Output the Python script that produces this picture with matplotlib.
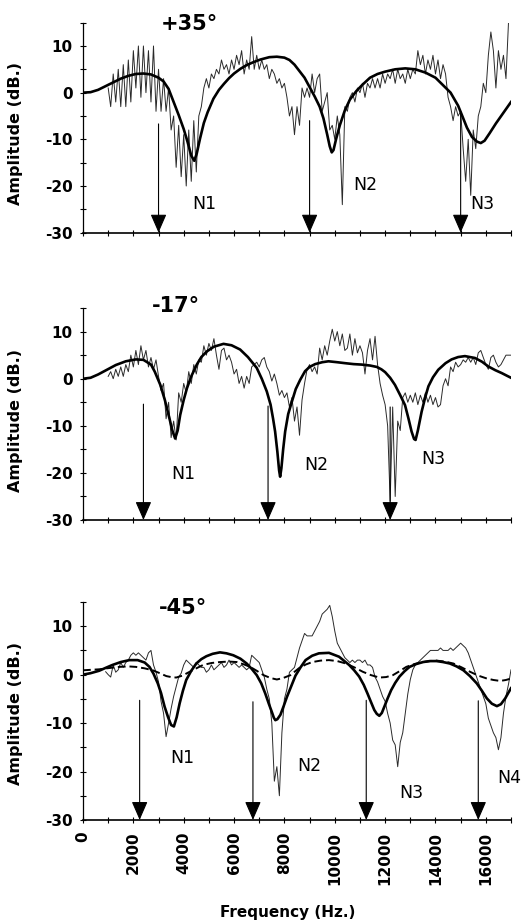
import numpy as np
import matplotlib.pyplot as plt
from matplotlib.ticker import MultipleLocator

plt.rcParams["axes.unicode_minus"] = False

# ---- panel 1: +35 deg ----
top_model_f = [0, 300, 600, 900, 1200, 1500, 1800, 2100, 2400, 2700, 3000, 3200, 3400, 3600,
               3800, 4000, 4150, 4300, 4420, 4520, 4650, 4800, 4950, 5180, 5400, 5600, 5800,
               6000, 6250, 6500, 6800, 7050, 7400, 7700, 8000, 8200, 8400, 8600, 8800, 9000,
               9200, 9400, 9550, 9700, 9800, 9880, 9950, 10050, 10200, 10400, 10600, 10850,
               11100, 11400, 11700, 12000, 12400, 12800, 13200, 13600, 14000, 14300, 14600,
               14900, 15050, 15250, 15450, 15650, 15800, 15950, 16150, 16400, 16700, 17000]
top_model_db = [0, 0.1, 0.6, 1.4, 2.2, 3.0, 3.6, 4.0, 4.1, 3.9, 3.2, 2.4, 0.8, -2.0,
                -4.8, -7.8, -10.5, -13.5, -14.6, -13.0, -9.8, -6.5, -4.2, -1.3, 0.6, 1.9, 3.1,
                4.1, 5.1, 5.9, 6.6, 7.1, 7.6, 7.7, 7.5, 7.0, 6.0, 4.6, 3.2, 1.2,
                -0.8, -3.0, -5.5, -9.0, -11.5, -12.8, -12.3, -10.0, -7.0, -3.8, -1.5, 0.3,
                1.7, 3.2, 4.0, 4.5, 5.0, 5.2, 5.0, 4.3, 3.2, 1.6, 0.0,
                -2.8, -4.8, -7.5, -9.5, -10.5, -10.8, -10.3, -8.7, -6.6, -4.3, -2.0]

top_meas_f = np.arange(1000, 17000, 100)
top_meas_db = [1, -3, 4, -2, 5, -3, 6, -3, 7, -2,
               9, 1, 10, -1, 10, 0, 9, -2, 10, -4,
               5, -4, 3, -4, 1, -8, -5, -16, -7, -18,
               -9, -20, -8, -19, -6, -17, -5, -3, 1, 3,
               1, 4, 3, 5, 4, 7, 5, 6, 4, 7,
               5, 8, 6, 9, 4, 7, 5, 12, 5, 8,
               5, 7, 5, 6, 3, 5, 4, 2, 3, 1,
               2, -1, -5, -3, -9, -3, -7, 1, -1, 1,
               -1, 4, 0, 3, 4, -4, -2, 0, -8, -7,
               -10, -5, -9, -24, -3, -4, -1, 0, -2, 1,
               0, 2, -1, 2, 1, 3, 1, 3, 1, 4,
               2, 4, 3, 5, 2, 5, 3, 4, 2, 5,
               3, 5, 4, 9, 6, 8, 4, 7, 5, 8,
               4, 7, 3, 6, 4, -1, -3, -6, -3, -5,
               -4, -12, -19, -10, -22, -8, -12, -5, -3, 2,
               0, 8, 13, 9, 1, 9, 5, 8, 3, 15]
top_arrows = [3000, 9000, 15000]
top_arrow_start = [-6.7, -6.0, -4.0]
top_labels = ["N1", "N2", "N3"]
top_label_f = [4810, 11200, 15870]
top_label_db = [-24.9, -20.8, -24.9]

# ---- panel 2: -17 deg ----
mid_model_f = [0, 300, 600, 950, 1300, 1700, 2100, 2400, 2700, 2850, 3070, 3250, 3400, 3550,
               3660, 3760, 3860, 4000, 4130, 4300, 4520, 4700, 4920, 5200, 5580, 5900, 6240,
               6550, 6900, 7100, 7300, 7450, 7550, 7630, 7720, 7790, 7830, 7880, 7950, 8030,
               8150, 8300, 8450, 8630, 8820, 9000, 9220, 9500, 9750, 10100, 10410, 10750,
               11070, 11400, 11670, 11850, 12000, 12200, 12390, 12600, 12790, 12930, 13050,
               13150, 13210, 13300, 13450, 13600, 13720, 13900, 14110, 14400, 14640, 14900,
               15170, 15570, 15850, 16100, 16380, 16630, 16850, 17000]
mid_model_db = [0, 0.2, 0.9, 1.9, 2.9, 3.7, 4.1, 4.0, 3.0, 1.5, -1.3, -4.5, -7.7, -11.0,
                -12.7, -11.0, -7.7, -4.5, -2.0, 0.5, 3.0, 4.6, 5.8, 6.8, 7.4, 7.1, 6.2,
                4.6, 2.3, 0.0, -2.7, -5.5, -8.5, -11.2, -15.5, -19.5, -20.8, -19.0, -15.0, -11.2,
                -7.5, -4.8, -2.2, -0.2, 1.6, 2.5, 3.1, 3.5, 3.7, 3.5, 3.3, 3.1,
                3.0, 2.8, 2.5, 2.0, 1.4, 0.2, -1.3, -3.5, -5.6, -8.5, -11.2,
                -12.8, -13.0, -11.0, -7.0, -3.8, -1.6, 0.3, 1.9, 3.3, 4.1, 4.6,
                4.8, 4.4, 3.6, 2.6, 1.8, 1.2, 0.6, 0.2]

mid_meas_f = np.arange(1000, 17100, 100)
mid_meas_db = [0.5, 1.5, 0, 2, 0.5, 2.5, 0.5, 3, 1.5, 5,
               2.5, 6, 3, 7, 4, 6, 2.5, 4.5, 2, 4,
               0.5, -2.5, -1, -8.5, -5, -12.5, -9, -13, -3, -5,
               -1, -3, 1.5, -1, 3, 1, 4, 3.5, 7, 5,
               7.5, 6, 8.5, 5, 2, 6, 6.5, 4, 5, 3.5,
               1, 2, -1, 0.5, -2, 0.5, -1, 2.5, 3, 3.5,
               2.5, 4, 4.5, 2.5, 1.5, -0.5, 1, -1, -3.5, -2.5,
               -4, -3, -6, -4, -9, -6, -12, -4.5, -1, 2,
               3, 1.5, 2.5, 1, 6.5, 4, 7, 5, 8, 10.5,
               8, 10, 7, 9.5, 6, 6.5, 9.5, 5, 8.5, 5.5,
               7, 5.5, 1, 6, 8.5, 4, 9, 3, -1, -3.5,
               -5.5, -10, -26, -6, -25, -9, -11, -4, -3, -5,
               -3.5, -5, -3, -5.5, -3.5, -5, -3, -5, -3.5, -5.5,
               -4, -6, -5.5, -1.5, 0, -1.5, 2.5, 1.5, 3.5, 2.5,
               3, 4, 3.5, 4.5, 3.5, 4.5, 3, 5.5, 6, 4.5,
               3, 2, 4.5, 5, 3.5, 2.5, 3, 4, 5, 5,
               5]
mid_arrows = [2400, 7350, 12200]
mid_arrow_start = [-5.4, -5.8, -6.0]
mid_labels = ["N1", "N2", "N3"]
mid_label_f = [4000, 9260, 13910]
mid_label_db = [-21.3, -19.4, -18.0]

# ---- panel 3: -45 deg ----
bot_model_f = [0, 300, 640, 900, 1170, 1500, 1840, 2170, 2450, 2640, 2800, 2970, 3100, 3240,
               3380, 3500, 3610, 3720, 3840, 3970, 4100, 4300, 4500, 4700, 4900, 5150, 5440,
               5700, 5970, 6250, 6500, 6700, 6900, 7080, 7240, 7380, 7500, 7580, 7640, 7720,
               7840, 7970, 8100, 8270, 8440, 8640, 8840, 9100, 9370, 9770, 10170, 10570,
               10770, 10970, 11150, 11300, 11450, 11570, 11670, 11770, 11870, 11970, 12100,
               12240, 12400, 12570, 12770, 12970, 13240, 13510, 13780, 14040, 14300, 14570,
               14840, 15110, 15370, 15640, 15840, 16040, 16240, 16440, 16600, 16770, 16900,
               17000]
bot_model_db = [0, 0.3, 0.8, 1.4, 2.0, 2.6, 3.0, 3.0, 2.5, 1.6, 0.2, -1.8, -3.8, -6.6,
                -8.8, -10.4, -10.7, -8.8, -5.9, -3.3, -1.1, 0.8, 2.3, 3.2, 3.8, 4.3, 4.6,
                4.4, 4.0, 3.3, 2.3, 1.2, -0.1, -1.8, -3.9, -6.0, -7.7, -8.9, -9.4, -9.2,
                -8.3, -6.5, -4.6, -2.4, -0.2, 1.5, 3.0, 3.9, 4.4, 4.5, 3.7, 2.0,
                0.9, -0.4, -2.1, -3.9, -5.8, -7.3, -8.1, -8.5, -7.9, -6.6, -4.9,
                -3.2, -1.7, -0.4, 0.7, 1.6, 2.2, 2.6, 2.8, 2.8, 2.6, 2.3,
                1.7, 0.9, -0.3, -1.8, -3.3, -4.9, -6.0, -6.5, -6.1, -4.9, -3.7,
                -2.8]

bot_alt_f = [0, 640, 1100, 1440, 1800, 2100, 2450, 2770, 3050, 3310, 3500, 3700, 3950, 4240,
             4500, 4770, 5100, 5440, 5800, 6110, 6400, 6640, 6900, 7170, 7450, 7700, 7950,
             8240, 8570, 8850, 9110, 9440, 9770, 10100, 10440, 10780, 11110, 11440, 11770,
             12040, 12310, 12570, 12840, 13170, 13510, 13780, 14040, 14370, 14710, 15040,
             15370, 15700, 16040, 16300, 16570, 16800, 17000]
bot_alt_db = [0.9, 1.1, 1.4, 1.6, 1.7, 1.6, 1.3, 0.9, 0.3, -0.3, -0.5, -0.6, -0.2, 0.6,
              1.3, 2.0, 2.4, 2.6, 2.7, 2.6, 2.1, 1.6, 0.8, -0.1, -0.7, -1.0, -0.7,
              -0.1, 1.3, 2.1, 2.6, 2.9, 3.0, 2.8, 2.3, 1.5, 0.6, -0.1, -0.6,
              -0.5, -0.1, 0.7, 1.6, 2.2, 2.6, 2.8, 2.9, 2.7, 2.3, 1.5,
              0.6, -0.2, -0.8, -1.1, -1.3, -1.1, -0.8]

bot_meas_f = np.arange(900, 17100, 100)
bot_meas_db = [0.6, 0, -0.5, 2, 0.5, 1, 2.5, 1.5, 2.5, 3,
               4, 4.5, 4, 4.5, 4, 3.5, 3, 4.5, 5, 2,
               0.5, -1.5, -5.5, -8, -12.8, -10, -7, -4.5, -2.5, -0.5,
               0.3, 2, 3, 2.5, 2, 1.5, 2.5, 2, 1.5, 1.5,
               0.5, 1, 2, 1, 1.5, 2, 2.5, 1.5, 2, 3,
               2, 2.5, 2, 1.5, 2, 1.5, 1, 1.5, 4, 3.5,
               3, 2.5, 1, -0.5, -3, -5, -10, -22, -19, -25,
               -12, -5, -3, 0.5, 1, 1.5, 3.5, 5.5, 7, 8.5,
               8, 8, 8, 9, 10, 11, 12.5, 13, 13.5, 14.3,
               12, 9, 6.5, 5.5, 4.5, 3.5, 3, 2.5, 3, 2.5,
               3, 3, 2.5, 3, 2, 2, 1.5, -0.5, -1.5, -3,
               -4.5, -5.5, -8, -10, -13.5, -14.5, -19, -14, -12, -8,
               -4, -1, 1, 2, 2.5, 3, 3.5, 4, 4.5, 5,
               5, 5, 5, 5.5, 5, 5, 5, 5.5, 5, 5.5,
               6, 6.5, 6, 5.5, 4.5, 3, 1.5, 0, -1.5, -3,
               -4.5, -6, -9, -10.5, -12, -13, -15.5, -13, -8, -4.5,
               -2, 1]
bot_arrows = [2250, 6750, 11250, 15700]
bot_arrow_start = [-5.3, -5.6, -5.3, -5.4]
bot_labels = ["N1", "N2", "N3", "N4"]
bot_label_f = [3930, 8970, 13030, 16940]
bot_label_db = [-18.2, -19.9, -25.4, -22.3]

titles = ["+35°", "-17°", "-45°"]
title_f = [3070, 2750, 3000]
title_db = [13.4, 14.1, 12.5]

freq_ticks = [0, 2000, 4000, 6000, 8000, 10000, 12000, 14000, 16000]
amp_ticks = [10, 0, -10, -20, -30]

fig = plt.figure(figsize=(5.24, 9.24), dpi=100)
rects = [[0.1584, 0.7482, 0.8168, 0.2273],
         [0.1584, 0.4372, 0.8168, 0.2294],
         [0.1584, 0.1126, 0.8168, 0.2359]]
axes = [fig.add_axes(r) for r in rects]

panels = [
    (top_model_f, top_model_db, top_meas_f, top_meas_db, top_arrows, top_arrow_start,
     top_labels, top_label_f, top_label_db),
    (mid_model_f, mid_model_db, mid_meas_f, mid_meas_db, mid_arrows, mid_arrow_start,
     mid_labels, mid_label_f, mid_label_db),
    (bot_model_f, bot_model_db, bot_meas_f, bot_meas_db, bot_arrows, bot_arrow_start,
     bot_labels, bot_label_f, bot_label_db),
]

for i, ax in enumerate(axes):
    mf, mdb, sf, sdb, arr, arr_y, labs, lf, ldb = panels[i]
    ax.plot(sf, sdb, color="#2a2a2a", lw=0.7, zorder=2)
    ax.plot(mf, mdb, color="black", lw=1.9, zorder=3, solid_joinstyle="round")
    if i == 2:
        ax.plot(bot_alt_f, bot_alt_db, color="black", lw=1.4, ls=(0, (4, 2)), zorder=3)

    for f, y0 in zip(arr, arr_y):
        ax.annotate("", xy=(f, -30), xytext=(f, y0),
                    arrowprops=dict(arrowstyle="-|>,head_length=1.15,head_width=0.5",
                                    mutation_scale=10, color="black", lw=0.8,
                                    shrinkA=0, shrinkB=0),
                    zorder=4, annotation_clip=False)
    for t, f, y in zip(labs, lf, ldb):
        ax.text(f, y, t, fontsize=12.5, ha="center", va="baseline", clip_on=False)
    ax.text(title_f[i], title_db[i], titles[i], fontsize=15, fontweight="bold",
            ha="left", va="baseline", clip_on=False)

    ax.set_xlim(0, 17000)
    ax.set_ylim(-30, 15)
    ax.spines["top"].set_visible(False)
    ax.spines["right"].set_visible(False)
    ax.spines["left"].set_linewidth(0.9)
    ax.spines["bottom"].set_linewidth(1.2)
    ax.set_yticks(amp_ticks)
    ax.yaxis.set_minor_locator(MultipleLocator(5))
    ax.set_xticks(freq_ticks)
    ax.xaxis.set_minor_locator(MultipleLocator(1000))
    ax.tick_params(axis="both", which="major", direction="inout", length=5, width=0.8)
    ax.tick_params(axis="both", which="minor", direction="inout", length=4, width=0.8)
    ax.tick_params(axis="y", pad=5)
    for lab in ax.get_yticklabels():
        lab.set_fontsize(11)
        lab.set_fontweight("bold")
    ax.set_ylabel("Amplitude (dB.)", fontsize=11.5, fontweight="bold")
    ax.yaxis.set_label_coords(-0.141, 0.47 if i < 2 else 0.49)
    if i < 2:
        ax.set_xticklabels([])
    else:
        ax.set_xticklabels([str(v) for v in freq_ticks], rotation=90,
                           fontsize=11, fontweight="bold")
        ax.tick_params(axis="x", pad=6)

fig.text(288 / 524, 1 - 913 / 924, "Frequency (Hz.)", fontsize=11, fontweight="bold",
         ha="center", va="center")

fig.savefig("out.png", dpi=100)
